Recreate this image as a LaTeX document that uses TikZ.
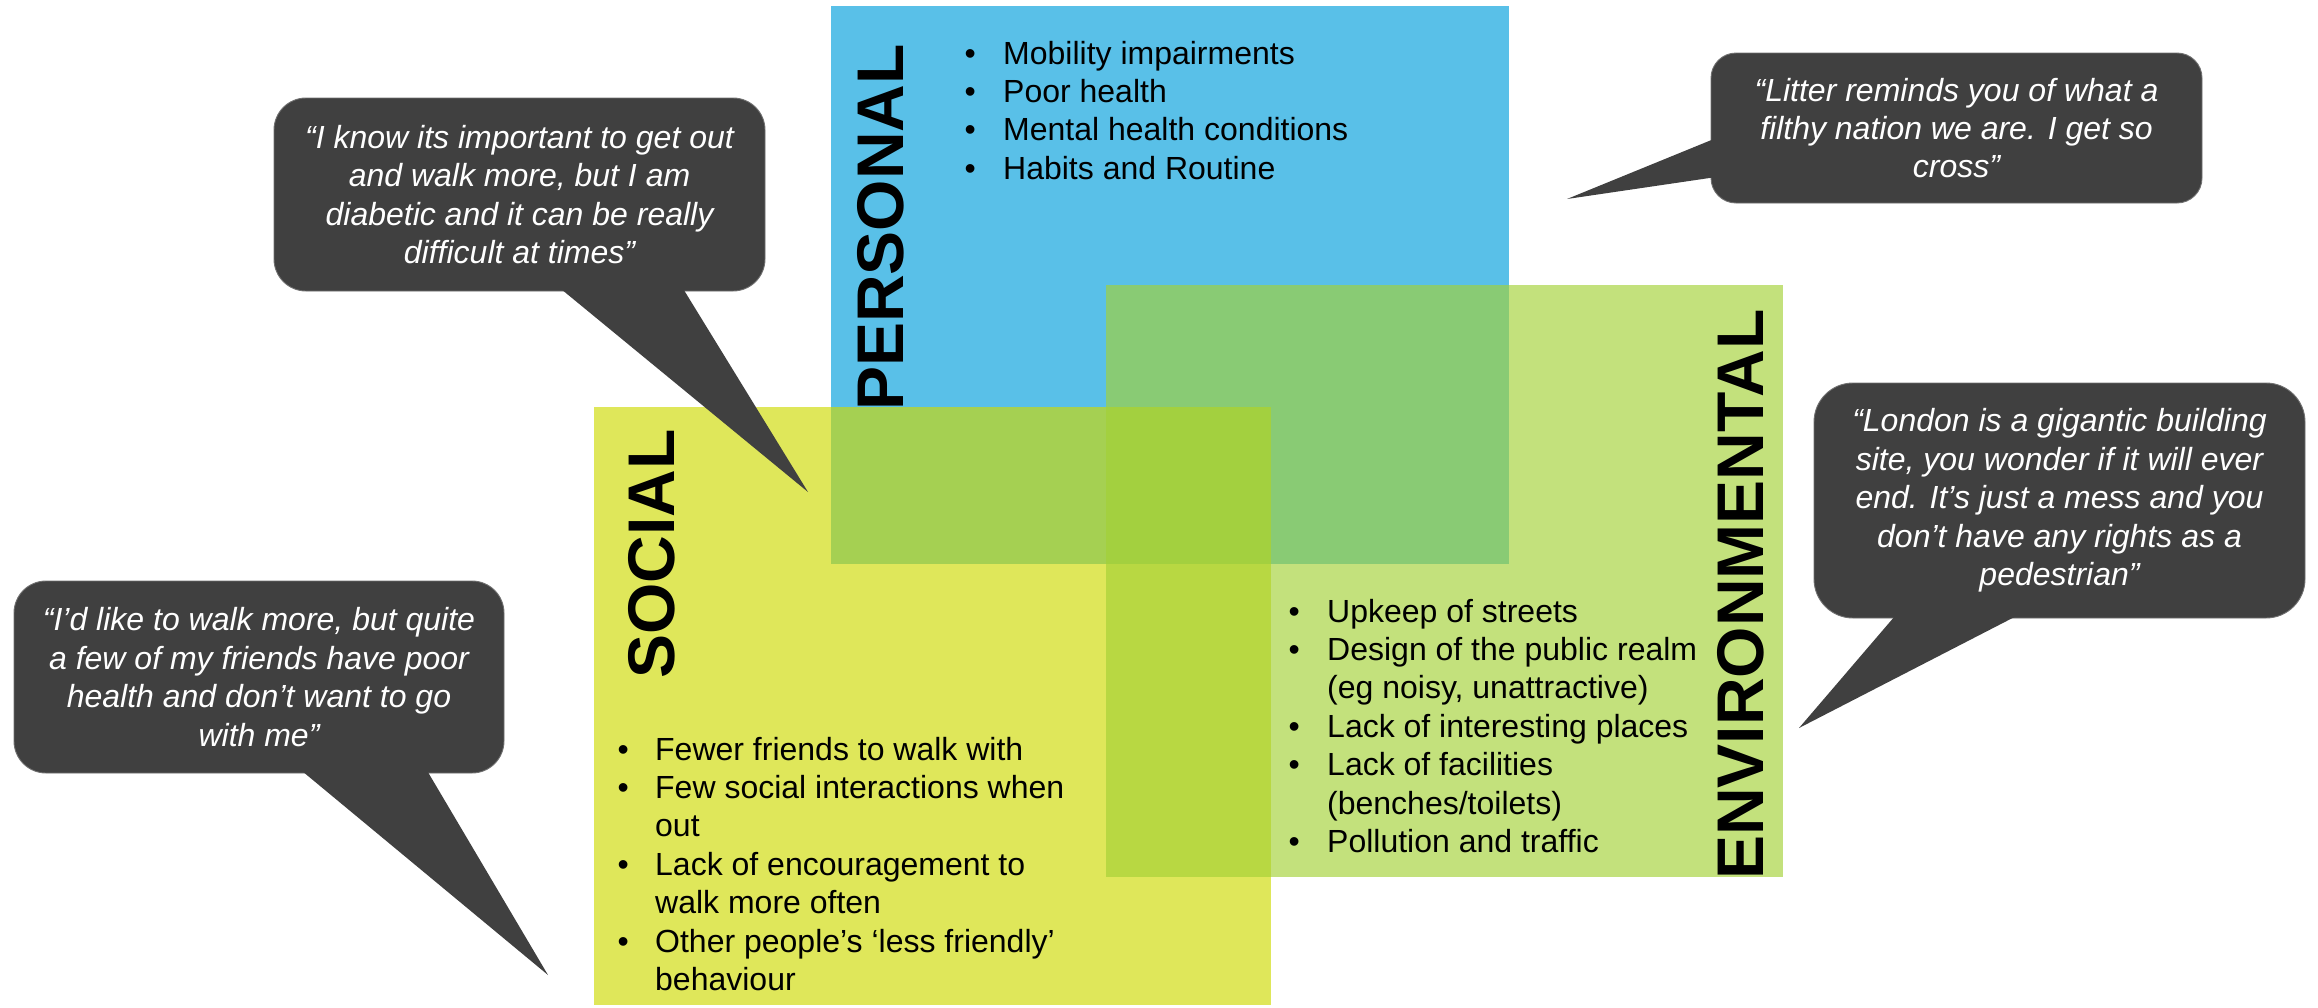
\documentclass[tikz,border=0pt]{standalone}
\usepackage{fontspec}
\setmainfont{Liberation Sans}
\usetikzlibrary{calc}
\definecolor{pblue}{HTML}{59C0E8}
\definecolor{egreen}{HTML}{A3D136}
\definecolor{syellow}{HTML}{CEDA02}
\definecolor{bubfill}{HTML}{404040}
\definecolor{bubedge}{HTML}{707070}
\tikzset{
  area/.style={rectangle, inner sep=0pt, outer sep=0pt, draw=none, anchor=north west},
  head/.style={rotate=90, anchor=base west, inner sep=0pt, font=\fontsize{66}{70}\selectfont\bfseries},
  blist/.style={anchor=base west, inner sep=0pt, font=\fontsize{32}{38.4}\selectfont},
  bubble/.style={rectangle, fill=bubfill, draw=bubedge, line width=0.9pt, text=white, align=center,
    inner sep=0pt, font=\fontsize{32}{38.4}\selectfont\itshape},
  tailfill/.style={fill=bubfill},
}
\begin{document}
\begin{tikzpicture}[x=1pt,y=-1pt]
\path[use as bounding box] (0,0) rectangle (2318,1007);
% areas
\node[area, fill=pblue, minimum width=678pt, minimum height=558pt] (personal) at (831,6) {};
\node[head] (phead) at (903,411) {PERSONAL};
\node[area, fill=syellow, fill opacity=0.65, minimum width=677pt, minimum height=598pt] (social) at (594,407) {};
\node[area, fill=egreen, fill opacity=0.65, minimum width=677pt, minimum height=592pt] (environmental) at (1106,285) {};
\node[head] (shead) at (674,679) {SOCIAL};
\node[head] (ehead) at (1763,880) {ENVIRONMENTAL};
% lists
\node[blist] (plist) at (964.5,64) {\begin{tabular}[t]{@{}p{38.5pt}@{}l@{}}
\textbullet & Mobility impairments\\
\textbullet & Poor health\\
\textbullet & Mental health conditions\\
\textbullet & Habits and Routine
\end{tabular}};
\node[blist] (slist) at (617.5,760) {\begin{tabular}[t]{@{}p{37.5pt}@{}l@{}}
\textbullet & Fewer friends to walk with\\
\textbullet & Few social interactions when\\
 & out\\
\textbullet & Lack of encouragement to\\
 & walk more often\\
\textbullet & Other people’s ‘less friendly’\\
 & behaviour
\end{tabular}};
\node[blist] (elist) at (1288.5,622) {\begin{tabular}[t]{@{}p{38.5pt}@{}l@{}}
\textbullet & Upkeep of streets\\
\textbullet & Design of the public realm\\
 & (eg noisy, unattractive)\\
\textbullet & Lack of interesting places\\
\textbullet & Lack of facilities\\
 & (benches/toilets)\\
\textbullet & Pollution and traffic
\end{tabular}};
% bubble 1
\node[bubble, rounded corners=32pt, minimum width=491pt, minimum height=193pt] (q1) at (519.5,194.5)
  {“I know its important to get out\\and walk more, but I am\\diabetic and it can be really\\difficult at times”};
\coordinate (t1) at (808,492);
\fill[tailfill] ($(q1.south west)+(288,-2)$) -- (t1) -- ($(q1.south west)+(410,-2)$) -- cycle;
% bubble 2
\node[bubble, rounded corners=32pt, minimum width=490pt, minimum height=192pt] (q2) at (259,677)
  {“I’d like to walk more, but quite\\a few of my friends have poor\\health and don’t want to go\\with me”};
\coordinate (t2) at (548,975);
\fill[tailfill] ($(q2.south west)+(289,-2)$) -- (t2) -- ($(q2.south west)+(414,-2)$) -- cycle;
% bubble 3
\node[bubble, rounded corners=25pt, minimum width=491pt, minimum height=150pt] (q3) at (1956.5,128)
  {“Litter reminds you of what a\\filthy nation we are. I get so\\cross”};
\coordinate (t3) at (1567,199);
\fill[tailfill] ($(q3.north west)+(2,87)$) -- (t3) -- ($(q3.north west)+(2,125)$) -- cycle;
% bubble 4
\node[bubble, rounded corners=39pt, minimum width=491pt, minimum height=235pt] (q4) at (2059.5,500.5)
  {“London is a gigantic building\\site, you wonder if it will ever\\end. It’s just a mess and you\\don’t have any rights as a\\pedestrian”};
\coordinate (t4) at (1799,728);
\fill[tailfill] ($(q4.south west)+(81,-2)$) -- (t4) -- ($(q4.south west)+(202,-2)$) -- cycle;
\end{tikzpicture}
\end{document}
